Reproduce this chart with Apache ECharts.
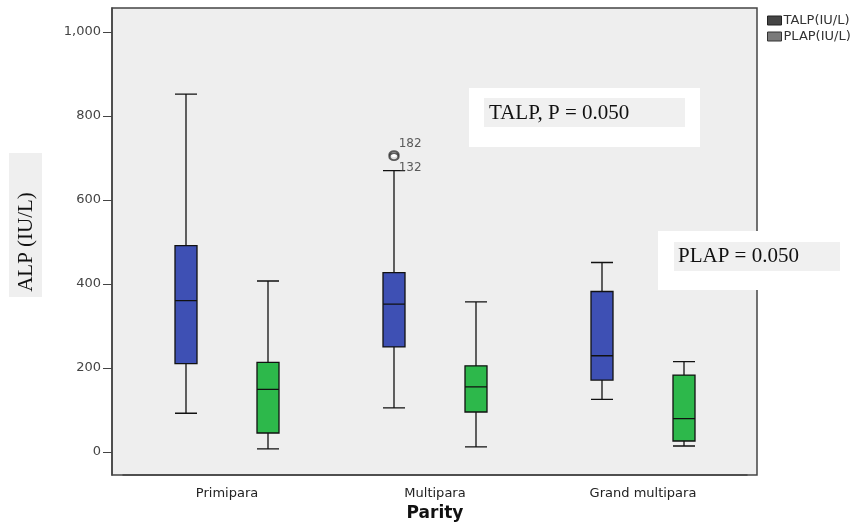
<!DOCTYPE html>
<html>
<head>
<meta charset="utf-8">
<script src="https://cdn.jsdelivr.net/npm/echarts@6/dist/echarts.min.js"></script>
<style>
  html, body { margin: 0; padding: 0; background: #fff; }
  #chart { width: 860px; height: 527px; }
</style>
</head>
<body>
<div id="chart"></div>
<script>
// categories and box stats [min, Q1, median, Q3, max]
const categories = ['Primipara', 'Multipara', 'Grand multipara'];
const talp = [
  [92, 210, 360, 491, 852],
  [105, 250, 352, 427, 670],
  [125, 171, 229, 382, 451]
];
const plap = [
  [7, 45, 149, 213, 407],
  [12, 95, 155, 205, 357],
  [14, 26, 79, 183, 215]
];
// outliers of TALP (case number, category index, value)
const outlierIds = ['182', '132'];
const outlierCats = [1, 1];
const outlierVals = [708, 703];
const yTicks = [0, 200, 400, 600, 800, 1000];

const sans = '"DejaVu Sans", sans-serif';
const serif = '"Liberation Serif", "Times New Roman", serif';

const chart = echarts.init(document.getElementById('chart'));

// frame of the plot, a bit wider than the category band
const frame = { x: 112, y: 8, w: 645, h: 467 };
const plotLeft = 123, plotWidth = 624;
const boxShift = 41; // each series sits this far left/right of its tick
const yMin = -55, yMax = 1057;

function hiddenAxes(idx) {
  return {
    x: { type: 'category', gridIndex: idx, data: categories, show: false },
    y: { type: 'value', gridIndex: idx, min: yMin, max: yMax, show: false }
  };
}
const talpAxes = hiddenAxes(1);
const plapAxes = hiddenAxes(2);

chart.setOption({
  animation: false,
  backgroundColor: '#fff',
  grid: [
    { left: plotLeft, top: frame.y, width: plotWidth, height: frame.h },
    { left: plotLeft - boxShift, top: frame.y, width: plotWidth, height: frame.h },
    { left: plotLeft + boxShift, top: frame.y, width: plotWidth, height: frame.h }
  ],
  legend: {
    orient: 'vertical',
    left: 762,
    top: 9,
    itemWidth: 14,
    itemHeight: 9,
    itemGap: 3,
    icon: 'rect',
    textStyle: { fontFamily: sans, fontSize: 13, color: '#333', padding: [0, 0, 0, -3] },
    data: [
      { name: 'TALP(IU/L)', itemStyle: { color: '#454545', borderColor: '#222', borderWidth: 1 } },
      { name: 'PLAP(IU/L)', itemStyle: { color: '#7a7a7a', borderColor: '#333', borderWidth: 1 } }
    ]
  },
  xAxis: [
    {
      type: 'category',
      gridIndex: 0,
      data: categories,
      axisLine: { onZero: false, lineStyle: { color: '#444', width: 1.5 } },
      axisTick: { alignWithLabel: true, length: 5, lineStyle: { color: '#444' } },
      axisLabel: { fontFamily: sans, fontSize: 13, color: '#222', margin: 12 },
      name: 'Parity',
      nameLocation: 'middle',
      nameGap: 30,
      nameTextStyle: { fontFamily: sans, fontSize: 17, fontWeight: 'bold', color: '#111' },
      splitLine: { show: false }
    },
    talpAxes.x,
    plapAxes.x
  ],
  yAxis: [
    {
      type: 'value',
      gridIndex: 0,
      min: yMin,
      max: yMax,
      offset: 11,
      axisLine: { show: true, lineStyle: { color: '#444', width: 1.5 } },
      axisTick: { show: true, length: 9, customValues: yTicks, lineStyle: { color: '#444' } },
      axisLabel: {
        customValues: yTicks,
        fontFamily: sans, fontSize: 13, color: '#444', margin: 11,
        formatter: v => v.toLocaleString('en-US')
      },
      splitLine: { show: false }
    },
    talpAxes.y,
    plapAxes.y
  ],
  series: [
    {
      name: 'TALP(IU/L)',
      type: 'boxplot',
      xAxisIndex: 1,
      yAxisIndex: 1,
      boxWidth: [22, 22],
      data: talp,
      itemStyle: { color: '#3e50b4', borderColor: '#111', borderWidth: 1.3 }
    },
    {
      name: 'PLAP(IU/L)',
      type: 'boxplot',
      xAxisIndex: 2,
      yAxisIndex: 2,
      boxWidth: [22, 22],
      data: plap,
      itemStyle: { color: '#2db84b', borderColor: '#111', borderWidth: 1.3 }
    },
    {
      name: 'outliers',
      type: 'scatter',
      xAxisIndex: 1,
      yAxisIndex: 1,
      symbol: 'emptyCircle',
      symbolSize: [9, 7],
      itemStyle: { color: '#333', borderWidth: 1.5 },
      data: outlierVals.map((v, i) => ({
        name: outlierIds[i],
        value: [categories[outlierCats[i]], v],
        label: {
          show: true,
          position: 'right',
          distance: 0,
          offset: [-1, i === 0 ? -11 : 11],
          formatter: '{b}',
          fontFamily: sans, fontSize: 12, color: '#333'
        }
      }))
    }
  ],
  graphic: [
    {
      type: 'rect', z: -10,
      shape: { x: frame.x, y: frame.y, width: frame.w, height: frame.h },
      style: { fill: '#eeeeee', stroke: '#444', lineWidth: 1.5 }
    },
    // y axis title
    { type: 'rect', shape: { x: 9, y: 153, width: 33, height: 144 }, style: { fill: '#efefef' } },
    {
      type: 'text', x: 26, y: 242, rotation: Math.PI / 2,
      style: { text: 'ALP (IU/L)', font: '21px ' + serif, fill: '#111',
        textAlign: 'center', textVerticalAlign: 'middle', align: 'center', verticalAlign: 'middle' }
    },
    // annotation boxes
    { type: 'rect', z: 50, shape: { x: 469, y: 88, width: 231, height: 59 }, style: { fill: '#fff' } },
    { type: 'rect', z: 51, shape: { x: 484, y: 98, width: 201, height: 29 }, style: { fill: '#f0f0f0' } },
    {
      type: 'text', z: 52, x: 489, y: 113,
      style: { text: 'TALP, P = 0.050', font: '21px ' + serif, fill: '#111',
        textVerticalAlign: 'middle', verticalAlign: 'middle' }
    },
    { type: 'rect', z: 50, shape: { x: 658, y: 231, width: 187, height: 59 }, style: { fill: '#fff' } },
    { type: 'rect', z: 51, shape: { x: 674, y: 242, width: 166, height: 29 }, style: { fill: '#f0f0f0' } },
    {
      type: 'text', z: 52, x: 678, y: 256,
      style: { text: 'PLAP = 0.050', font: '21px ' + serif, fill: '#111',
        textVerticalAlign: 'middle', verticalAlign: 'middle' }
    }
  ]
});
</script>
</body>
</html>
